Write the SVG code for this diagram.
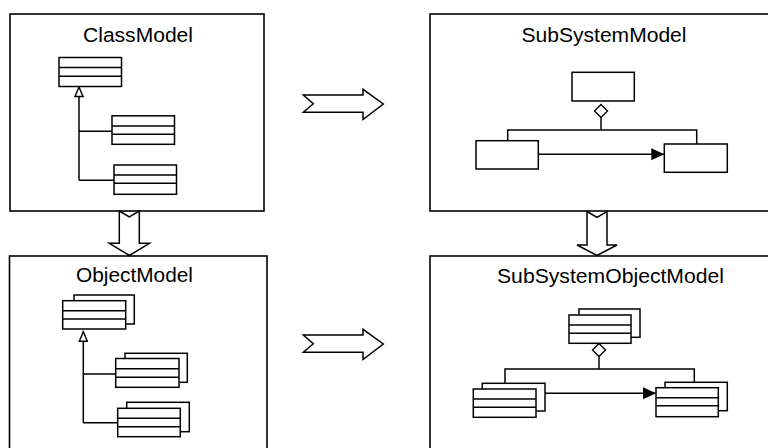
<svg xmlns="http://www.w3.org/2000/svg" width="768" height="448" viewBox="0 0 768 448">
<style>
.frame{fill:#fff;stroke:#000;stroke-width:1.6}
.box{fill:#fff;stroke:#000;stroke-width:1.5}
.ln{fill:none;stroke:#000;stroke-width:1.5}
.big{fill:#fff;stroke:#000;stroke-width:1.5;stroke-linejoin:miter}
.title{font-family:"Liberation Sans",Arial,sans-serif;font-size:20.5px;fill:#000;text-anchor:middle}
</style>
<defs>
<marker id="gen" markerUnits="userSpaceOnUse" markerWidth="12" markerHeight="10" refX="9.5" refY="4" orient="auto" viewBox="-1 -1 12 10">
<path d="M0,0 L9.5,4 L0,8 Z" fill="#fff" stroke="#000" stroke-width="1.4"/>
</marker>
<marker id="agg" markerUnits="userSpaceOnUse" markerWidth="16" markerHeight="16" refX="13" refY="6.5" orient="auto" viewBox="-1.5 -1.5 16 16">
<path d="M0,6.5 L6.5,0 L13,6.5 L6.5,13 Z" fill="#fff" stroke="#000" stroke-width="1.4"/>
</marker>
<marker id="nav" markerUnits="userSpaceOnUse" markerWidth="14" markerHeight="13" refX="13" refY="6" orient="auto" viewBox="0 0 14 13">
<path d="M0,0 L13,6 L0,12 Z" fill="#000"/>
</marker>
</defs>

<!-- frames -->
<g id="classModel">
<rect class="frame" x="10" y="14" width="254" height="197"/>
<text class="title" x="138" y="42" textLength="110" lengthAdjust="spacingAndGlyphs">ClassModel</text>
</g>
<g id="subSystemModel">
<rect class="frame" x="430" y="14" width="345" height="197"/>
<text class="title" x="604" y="42" textLength="165" lengthAdjust="spacingAndGlyphs">SubSystemModel</text>
</g>
<g id="objectModel">
<rect class="frame" x="9.5" y="256" width="257.5" height="200"/>
<text class="title" x="134.5" y="282" textLength="117" lengthAdjust="spacingAndGlyphs">ObjectModel</text>
</g>
<g id="subSystemObjectModel">
<rect class="frame" x="430" y="256" width="345" height="200"/>
<text class="title" x="610.5" y="283" textLength="227" lengthAdjust="spacingAndGlyphs">SubSystemObjectModel</text>
</g>

<!-- transformation arrows -->
<g id="transforms">
<path class="big" d="M119.3,211 L129.3,217 L139.3,211 L139.3,243.3 L149.5,243.3 L129.4,255.5 L109.3,243.3 L119.3,243.3 Z"/>
<path class="big" d="M587,211.5 L597,217.5 L607,211.5 L607,245 L617,245 L597,255.5 L577,245 L587,245 Z"/>
<path class="big" d="M303.3,95 L363,95 L363,89.3 L383.3,104 L363,119.5 L363,112.3 L303.3,112.3 L313.3,103.7 Z"/>
<path class="big" d="M303.3,335 L363,335 L363,329.3 L383.3,344 L363,359.5 L363,352.3 L303.3,352.3 L313.3,343.7 Z"/>
</g>

<!-- class model nodes -->
<g id="cm-super">
<rect class="box" x="59" y="57.5" width="62.5" height="29"/>
<path class="ln" d="M59,67.5 H121.5 M59,76.2 H121.5"/>
</g>
<g id="cm-sub1">
<rect class="box" x="112" y="115.8" width="62.5" height="28.5"/>
<path class="ln" d="M112,126 H174.5 M112,134.3 H174.5"/>
</g>
<g id="cm-sub2">
<rect class="box" x="114" y="165" width="62.5" height="29.3"/>
<path class="ln" d="M114,175 H176.5 M114,183.3 H176.5"/>
</g>

<!-- subsystem model nodes -->
<g id="ss-whole"><rect class="box" x="572" y="72.3" width="62.3" height="28.7"/></g>
<g id="ss-left"><rect class="box" x="476" y="140.7" width="62.3" height="28.3"/></g>
<g id="ss-right"><rect class="box" x="664.3" y="144" width="63" height="28.3"/></g>

<!-- object model nodes -->
<g id="om-super">
<rect class="box" x="74" y="295" width="60.3" height="29"/>
<rect class="box" x="62.7" y="300.7" width="63" height="28.3"/>
<path class="ln" d="M62.7,310.7 H125.7 M62.7,319 H125.7"/>
</g>
<g id="om-sub1">
<rect class="box" x="125" y="353.3" width="62.3" height="29"/>
<rect class="box" x="115.7" y="358.5" width="63.3" height="28.8"/>
<path class="ln" d="M115.7,368.7 H179 M115.7,377.3 H179"/>
</g>
<g id="om-sub2">
<rect class="box" x="126.7" y="402.3" width="62.6" height="29.4"/>
<rect class="box" x="117.7" y="408.3" width="62.6" height="28.4"/>
<path class="ln" d="M117.7,418.3 H180.3 M117.7,426.7 H180.3"/>
</g>

<!-- subsystem object model nodes -->
<g id="sso-whole">
<rect class="box" x="579" y="309" width="61" height="28.3"/>
<rect class="box" x="569" y="315" width="62" height="28.3"/>
<path class="ln" d="M569,325 H631 M569,333.3 H631"/>
</g>
<g id="sso-left">
<rect class="box" x="482.3" y="383.3" width="62.7" height="27.7"/>
<rect class="box" x="473.3" y="389" width="62.7" height="28.3"/>
<path class="ln" d="M473.3,399 H536 M473.3,407.3 H536"/>
</g>
<g id="sso-right">
<rect class="box" x="665" y="382.3" width="62.3" height="28.4"/>
<rect class="box" x="656" y="387.7" width="62.3" height="29"/>
<path class="ln" d="M656,397.7 H718.3 M656,405.7 H718.3"/>
</g>

<!-- connectors -->
<g id="connectors">
<path class="ln" d="M79,180.3 V87" marker-end="url(#gen)"/>
<path class="ln" d="M79,131.3 H112"/>
<path class="ln" d="M79,180.3 H114"/>

<path class="ln" d="M601,130 V104.5" marker-end="url(#agg)"/>
<path class="ln" d="M507.7,140.7 V130 H696.7 V144"/>
<path class="ln" d="M538.3,154.3 H664.3" marker-end="url(#nav)"/>

<path class="ln" d="M83.3,422.7 V331.7" marker-end="url(#gen)"/>
<path class="ln" d="M83.3,374 H115.7"/>
<path class="ln" d="M83.3,422.7 H117.7"/>

<path class="ln" d="M599,369 V343.5" marker-end="url(#agg)"/>
<path class="ln" d="M505,383.3 V369 H694.3 V382.3"/>
<path class="ln" d="M545,393.3 H656" marker-end="url(#nav)"/>
</g>
</svg>
